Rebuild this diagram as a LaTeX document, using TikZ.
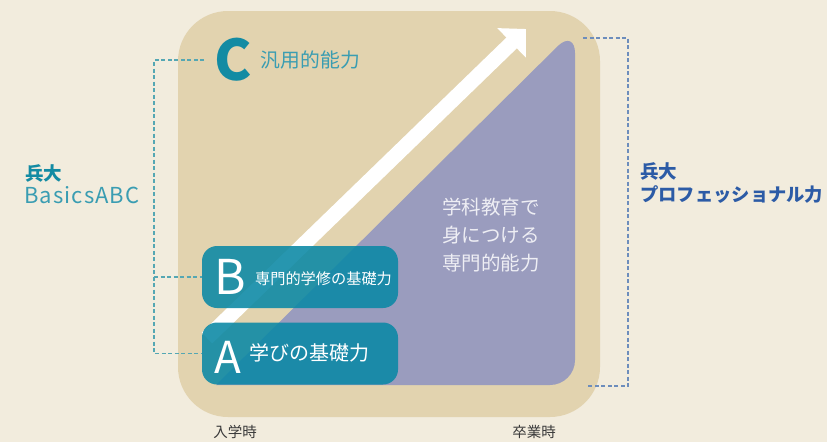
\documentclass[tikz,border=0pt]{standalone}
\usepackage{fontspec}
\setmainfont{Noto Sans CJK JP}
\usetikzlibrary{positioning}
\usetikzlibrary{arrows.meta}

\definecolor{paper}{HTML}{F2ECDD}
\definecolor{sand}{HTML}{E2D3AF}
\definecolor{lilac}{HTML}{9A9CBE}
\definecolor{lilactext}{HTML}{EEEEF4}
\definecolor{boxteal}{HTML}{0A88A5}
\definecolor{letteal}{HTML}{138BA3}
\definecolor{softteal}{HTML}{3A9DB2}
\definecolor{dashteal}{HTML}{55A7B3}
\definecolor{problue}{HTML}{2C5BA6}
\definecolor{dashblue}{HTML}{6D8DBC}
\definecolor{timegray}{HTML}{3A3A3A}

\begin{document}
\begin{tikzpicture}[x=1pt, y=-1pt,
	abox/.style={fill=boxteal, fill opacity=0.88, rounded corners=15pt, minimum width=196pt, minimum height=62pt, inner sep=0pt},
	bigletter/.style={text=white, inner sep=0pt, anchor=west},
	boxtext/.style={text=white, inner sep=0pt, anchor=west},
	leftdash/.style={dashteal, line width=1.3pt, dash pattern=on 4pt off 2.5pt},
	rightdash/.style={dashblue, line width=1.3pt, dash pattern=on 4pt off 2.5pt},
	timelabel/.style={text=timegray, inner sep=0pt, font=\fontsize{14.5}{16}\selectfont}]

\useasboundingbox[fill=paper] (0,0) rectangle (827,442);

%frame and specialised area
\fill[sand, rounded corners=50pt] (178,11) rectangle (600,417);
\fill[lilac] (216,385) -- (550,385) .. controls (563.8,385) and (575,373.8) .. (575,360) -- (575,53) .. controls (575,40.4) and (567.4,37.1) .. (558.2,45.7) -- cycle;

%growth arrow
\coordinate (stail) at (207,338);
\coordinate (stip) at (526,29);
\draw[white, line width=15pt, -{Triangle[length=20pt,width=40pt]}] (stail) -- (stip);

%basics boxes
\node[abox] (boxB) at (300,277) {};
\node[abox] (boxA) at (300,353.5) {};

\node[bigletter, font=\fontsize{48}{48}\selectfont] (letB) at (214,277) {B};
\node[boxtext, font=\fontsize{15.2}{17}\selectfont, right=9pt of letB, yshift=-2pt] {専門的学修の基礎力};
\node[bigletter, font=\fontsize{44}{44}\selectfont] (letA) at (214,357.5) {A};
\node[boxtext, font=\fontsize{20}{22}\selectfont, right=8pt of letA, yshift=4.5pt] {学びの基礎力};

\node[inner sep=0pt, anchor=west, text=letteal, font=\bfseries\fontsize{56}{56}\selectfont] (letC) at (214,60) {C};
\node[inner sep=0pt, anchor=west, text=softteal, font=\fontsize{19.8}{22}\selectfont, right=9pt of letC] {汎用的能力};

\node[text=lilactext, align=left, font=\fontsize{19.5}{28}\selectfont] (senmon) at (491,235) {学科教育で\\身につける\\専門的能力};

%side captions
\node[inner sep=0pt, anchor=west, text=letteal, font=\bfseries\fontsize{18.5}{20}\selectfont] (hyodaiL) at (25,173) {兵大};
\node[inner sep=0pt, anchor=west, text=softteal, font=\fontsize{22}{24}\selectfont\addfontfeature{LetterSpace=5}] (basics) at (24,195) {BasicsABC};
\node[inner sep=0pt, anchor=west, text=problue, font=\bfseries\fontsize{18.5}{20}\selectfont] (hyodaiR) at (640,171) {兵大};
\node[inner sep=0pt, anchor=west, text=problue, font=\bfseries\fontsize{18.3}{20}\selectfont] (proskill) at (640,195) {プロフェッショナル力};

\node[timelabel] (entry) at (235,432) {入学時};
\node[timelabel] (grad) at (534,432) {卒業時};

%brackets
\coordinate (lbar) at (154,60);
\draw[leftdash] ([xshift=-10pt]letC.west) -- (lbar) |- (boxA.west);
\draw[leftdash] (lbar |- boxB.west) -- (boxB.west);

\coordinate (ptop) at (583,38);
\coordinate (pbot) at (587,386);
\coordinate (rtop) at (628,38);
\coordinate (rbot) at (628,386);
\draw[rightdash] (ptop) -- (rtop) -- (rbot) -- (pbot);
\end{tikzpicture}
\end{document}
